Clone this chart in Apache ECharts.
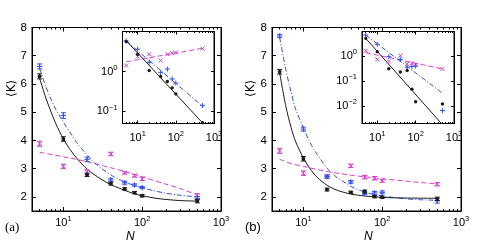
<!DOCTYPE html>
<html><head><meta charset="utf-8">
<script src="https://cdn.jsdelivr.net/npm/echarts@6/dist/echarts.min.js"></script>
<style>html,body{margin:0;padding:0;background:#fff}#c{width:485px;height:247px}</style>
</head><body><div id="c"></div>
<script>
// ---------- data ----------
const N = [5, 10, 20, 40, 60, 80, 100, 500];

// panel (a) main
const aBlack    = [6.27, 4.05, 2.78, 2.47, 2.28, 2.15, 2.04, 1.85];
const aBlackErr = [0.09, 0.08, 0.06, 0.05, 0.04, 0.04, 0.04, 0.06];
const aBlue     = [6.62, 4.88, 3.33, 2.60, 2.50, 2.42, 2.33, 1.95];
const aBlueErr  = [0.09, 0.10, 0.08, 0.06, 0.05, 0.04, 0.04, 0.06];
const aMag      = [3.88, 3.08, 2.88, 3.52, 2.85, 2.75, 2.64, 2.06];
const aMagErr   = [0.09, 0.08, 0.08, 0.06, 0.04, 0.05, 0.06, 0.05];

const aBlackFitN = [5, 6, 7, 8, 10, 12, 15, 20, 25, 30, 40, 50, 60, 80, 100, 150, 200, 300, 500];
const aBlackFit  = [6.2, 5.5, 5.0, 4.6, 4.05, 3.7, 3.35, 2.98, 2.78, 2.63, 2.43, 2.32, 2.23, 2.11, 2.04, 1.95, 1.91, 1.87, 1.85];
const aBlueFitN  = [5, 6, 7, 8, 10, 12, 15, 20, 25, 30, 40, 50, 60, 80, 100, 150, 200, 300, 500];
const aBlueFit   = [6.55, 5.9, 5.45, 5.1, 4.65, 4.3, 3.9, 3.48, 3.2, 3.02, 2.78, 2.63, 2.53, 2.4, 2.32, 2.2, 2.13, 2.06, 2.0];
const aMagFitN   = [5, 10, 20, 40, 60, 80, 100, 200, 300, 500];
const aMagFit    = [3.58, 3.42, 3.25, 3.03, 2.9, 2.79, 2.71, 2.45, 2.3, 2.07];

// panel (b) main
const bBlack    = [6.43, 3.35, 2.26, 2.16, 2.19, 2.01, 1.99, 1.93];
const bBlackErr = [0.08, 0.08, 0.05, 0.04, 0.05, 0.04, 0.04, 0.06];
const bBlue     = [7.70, 4.40, 2.72, 2.53, 2.13, 2.14, 2.16, 1.86];
const bBlueErr  = [0.06, 0.07, 0.05, 0.05, 0.05, 0.05, 0.05, 0.08];
const bMag      = [3.63, 2.84, 2.72, 3.10, 2.70, 2.66, 2.57, 2.45];
const bMagErr   = [0.09, 0.08, 0.06, 0.06, 0.06, 0.06, 0.05, 0.06];

const bBlackFitN = [5, 6, 7, 8, 10, 12, 15, 20, 25, 30, 40, 60, 80, 100, 200, 500];
const bBlackFit  = [6.4, 5.2, 4.45, 3.95, 3.38, 3.02, 2.69, 2.41, 2.27, 2.19, 2.1, 2.03, 2.0, 1.98, 1.96, 1.95];
const bBlueFitN  = [5, 6, 7, 8, 10, 12, 15, 20, 25, 30, 40, 60, 80, 100, 150, 200, 300, 500];
const bBlueFit   = [7.65, 6.5, 5.7, 5.1, 4.45, 3.95, 3.5, 3.02, 2.75, 2.6, 2.37, 2.17, 2.08, 2.03, 1.97, 1.93, 1.9, 1.88];
const bMagFitN   = [5, 7, 10, 15, 20, 30, 40, 60, 80, 100, 200, 300, 500];
const bMagFit    = [3.33, 3.18, 3.08, 2.97, 2.9, 2.82, 2.77, 2.71, 2.67, 2.64, 2.56, 2.51, 2.46];

// inset (a) log-log
const iaBlack = [5.6, 2.7, 1.06, 0.75, 0.56, 0.39, 0.275, 0.052];
const iaBlue  = [5.8, 3.6, 1.7, 0.95, 1.15, 0.65, 0.51, 0.14];
const iaMag   = [1.41, 2.36, 2.7, 1.88, 2.7, 2.87, 2.97, 3.73];
const iFitN   = [5, 500];
const iaBlackFit = [5.9, 0.052];
const iaBlueFit  = [5.8, 0.135];
const iaMagFit   = [1.75, 3.8];

// inset (b) log-log
const ibBlack = [5.3, 1.55, 0.32, 0.236, 0.27, 0.048, 0.015, 0.0123];
const ibBlue  = [7.2, 3.06, 0.97, 0.76, 0.365, 0.39, 0.41, 0.0066];
const ibMag   = [1.69, 0.76, 0.62, 1.07, 0.5, 0.53, 0.45, 0.31];
const ibBlackFit = [5.3, 0.0018];
const ibBlueFit  = [7.2, 0.033];
const ibMagFit   = [1.41, 0.31];

// minor tick values of the logarithmic N axes
const xMinorTicks = [5, 6, 7, 8, 9, 20, 30, 40, 50, 60, 70, 80, 90, 200, 300, 400, 500, 600, 700, 800, 900];

// ---------- styling ----------
const BLACK = '#1a1a1a', BLUE = '#2f4dff', MAG = '#e03ad8';
const FONT = 'Liberation Sans';

function supFmt(v) {
  const l = Math.log10(v), e = Math.round(l);
  if (Math.abs(l - e) > 1e-6) return '';
  return '{b|10}{s|' + (e < 0 ? '\u2212' + (-e) : e) + '}';
}
const supRich = {
  b: {fontSize: 11, fontFamily: FONT, color: '#000'},
  s: {fontSize: 7.5, fontFamily: FONT, color: '#000', padding: [0, 0, 8, 0]}
};

function xAxes(gi, inset) {
  const base = {type: 'log', logBase: 10, min: 4, max: 1000, gridIndex: gi,
    axisLine: {show: true, lineStyle: {color: '#000', width: 1}},
    splitLine: {show: false},
    axisTick: {show: true, inside: true, length: inset ? 3 : 4, lineStyle: {color: '#000'}}};
  const minor = Object.assign({}, base, {
    axisLine: {show: false}, axisLabel: {show: false},
    axisTick: {show: true, inside: true, length: inset ? 1.5 : 2, customValues: xMinorTicks, lineStyle: {color: '#000'}}});
  return [
    Object.assign({}, base, {position: 'bottom',
      axisLabel: {formatter: supFmt, rich: supRich, margin: inset ? 6 : 4, showMinLabel: false, showMaxLabel: true}}),
    Object.assign({}, base, {position: 'top', axisLabel: {show: false}}),
    Object.assign({}, minor, {position: 'bottom'}),
    Object.assign({}, minor, {position: 'top'})
  ];
}
function yAxesLin(gi) {
  const base = {type: 'value', min: 1.5, max: 8, gridIndex: gi,
    axisLine: {show: true, lineStyle: {color: '#000', width: 1}},
    splitLine: {show: false},
    axisTick: {show: true, inside: true, length: 4, lineStyle: {color: '#000'}}};
  return [
    Object.assign({}, base, {position: 'left',
      axisLabel: {color: '#000', fontSize: 11.5, fontFamily: FONT, margin: 5, showMinLabel: false,
        formatter: v => (Math.abs(v - Math.round(v)) < 1e-6 ? String(Math.round(v)) : '')}}),
    Object.assign({}, base, {position: 'right', axisLabel: {show: false}})
  ];
}
function yAxesLog(gi, min) {
  const base = {type: 'log', logBase: 10, min: min, max: 10, gridIndex: gi,
    axisLine: {show: true, lineStyle: {color: '#000', width: 1}},
    splitLine: {show: false},
    axisTick: {show: true, inside: true, length: 3, lineStyle: {color: '#000'}}};
  return [
    Object.assign({}, base, {position: 'left',
      axisLabel: {formatter: supFmt, rich: supRich, margin: 5, showMinLabel: false, showMaxLabel: false}}),
    Object.assign({}, base, {position: 'right', axisLabel: {show: false}})
  ];
}

function markerRender(kind, color, inset) {
  return function (params, api) {
    const x = api.value(0), y = api.value(1), e = api.value(2) || 0;
    const p = api.coord([x, y]);
    const st = {stroke: color, lineWidth: 1, fill: null};
    const ch = [];
    if (e > 0) {
      const lo = api.coord([x, y - e]), hi = api.coord([x, y + e]);
      ch.push({type: 'line', shape: {x1: p[0], y1: lo[1], x2: p[0], y2: hi[1]}, style: st});
      ch.push({type: 'line', shape: {x1: p[0] - 2.5, y1: lo[1], x2: p[0] + 2.5, y2: lo[1]}, style: st});
      ch.push({type: 'line', shape: {x1: p[0] - 2.5, y1: hi[1], x2: p[0] + 2.5, y2: hi[1]}, style: st});
    }
    const r = inset ? 2 : 2.2;
    if (kind === 'dot') {
      ch.push({type: 'circle', shape: {cx: p[0], cy: p[1], r: inset ? 1.7 : 1.9}, style: {fill: color, stroke: null}});
    } else if (kind === 'plus') {
      ch.push({type: 'line', shape: {x1: p[0] - r - 0.5, y1: p[1], x2: p[0] + r + 0.5, y2: p[1]}, style: st});
      ch.push({type: 'line', shape: {x1: p[0], y1: p[1] - r - 0.5, x2: p[0], y2: p[1] + r + 0.5}, style: st});
    } else {
      ch.push({type: 'line', shape: {x1: p[0] - r, y1: p[1] - r, x2: p[0] + r, y2: p[1] + r}, style: st});
      ch.push({type: 'line', shape: {x1: p[0] - r, y1: p[1] + r, x2: p[0] + r, y2: p[1] - r}, style: st});
    }
    return {type: 'group', children: ch};
  };
}

function pts(xs, ys, errs) { return xs.map((x, i) => [x, ys[i], errs ? errs[i] : 0]); }

// grid g uses xAxisIndex 4g and yAxisIndex 2g
function markers(g, xs, ys, errs, kind, color, inset) {
  return {type: 'custom', coordinateSystem: 'cartesian2d', xAxisIndex: 4 * g, yAxisIndex: 2 * g,
    data: pts(xs, ys, errs), encode: {x: 0, y: 1}, renderItem: markerRender(kind, color, inset),
    silent: true, z: inset ? 14 : 4};
}
function fitLine(g, xs, ys, color, dash, smooth) {
  return {type: 'line', xAxisIndex: 4 * g, yAxisIndex: 2 * g, data: xs.map((x, i) => [x, ys[i]]),
    showSymbol: false, symbol: 'none', smooth: smooth ? 0.3 : false, clip: true, silent: true,
    z: (g === 1 || g === 3) ? 13 : 3,
    lineStyle: {color: color, width: 1, type: dash}};
}

const DASH = [5, 3], DASHDOT = [5, 2, 1, 2];

const xAxis = [].concat(xAxes(0, false), xAxes(1, true), xAxes(2, false), xAxes(3, true));
const yAxis = [].concat(yAxesLin(0), yAxesLog(1, 0.05), yAxesLin(2), yAxesLog(3, 0.002));

const gridBase = {show: true, borderColor: '#000', borderWidth: 1, backgroundColor: '#fff', containLabel: false};
const grid = [
  Object.assign({}, gridBase, {left: 32, top: 27.5, width: 189, height: 183.5}),
  Object.assign({}, gridBase, {left: 122.5, top: 31.5, width: 91.5, height: 92}),
  Object.assign({}, gridBase, {left: 272, top: 27.5, width: 189, height: 183.5}),
  Object.assign({}, gridBase, {left: 362, top: 31.5, width: 92, height: 92})
];

const series = [
  // main (a)
  fitLine(0, aMagFitN, aMagFit, MAG, DASH, true),
  fitLine(0, aBlueFitN, aBlueFit, BLUE, DASHDOT, true),
  fitLine(0, aBlackFitN, aBlackFit, BLACK, 'solid', true),
  markers(0, N, aMag, aMagErr, 'x', MAG, false),
  markers(0, N, aBlue, aBlueErr, 'plus', BLUE, false),
  markers(0, N, aBlack, aBlackErr, 'dot', BLACK, false),
  // inset (a)
  fitLine(1, iFitN, iaMagFit, MAG, DASH, false),
  fitLine(1, iFitN, iaBlueFit, BLUE, DASHDOT, false),
  fitLine(1, iFitN, iaBlackFit, BLACK, 'solid', false),
  markers(1, N, iaMag, null, 'x', MAG, true),
  markers(1, N, iaBlue, null, 'plus', BLUE, true),
  markers(1, N, iaBlack, null, 'dot', BLACK, true),
  // main (b)
  fitLine(2, bMagFitN, bMagFit, MAG, DASH, true),
  fitLine(2, bBlueFitN, bBlueFit, BLUE, DASHDOT, true),
  fitLine(2, bBlackFitN, bBlackFit, BLACK, 'solid', true),
  markers(2, N, bMag, bMagErr, 'x', MAG, false),
  markers(2, N, bBlue, bBlueErr, 'plus', BLUE, false),
  markers(2, N, bBlack, bBlackErr, 'dot', BLACK, false),
  // inset (b)
  fitLine(3, iFitN, ibMagFit, MAG, DASH, false),
  fitLine(3, iFitN, ibBlueFit, BLUE, DASHDOT, false),
  fitLine(3, iFitN, ibBlackFit, BLACK, 'solid', false),
  markers(3, N, ibMag, null, 'x', MAG, true),
  markers(3, N, ibBlue, null, 'plus', BLUE, true),
  markers(3, N, ibBlack, null, 'dot', BLACK, true)
];

const graphic = [
  {type: 'text', left: 5, top: 221, style: {text: '(a)', font: '13px "Liberation Serif"', fill: '#000'}},
  {type: 'text', left: 245, top: 221, style: {text: '(b)', font: '13px "Liberation Sans"', fill: '#000'}},
  {type: 'text', left: 126, top: 231, style: {text: 'N', font: 'italic 12px "Liberation Sans"', fill: '#000'}},
  {type: 'text', left: 364, top: 231, style: {text: 'N', font: 'italic 12px "Liberation Sans"', fill: '#000'}},
  {type: 'text', x: 6, y: 97, rotation: Math.PI / 2, style: {text: '\u27E8K\u27E9', font: '12px "DejaVu Sans"', fill: '#000'}},
  {type: 'text', x: 245, y: 97, rotation: Math.PI / 2, style: {text: '\u27E8K\u27E9', font: '12px "DejaVu Sans"', fill: '#000'}}
];

const chart = echarts.init(document.getElementById('c'), null, {renderer: 'canvas'});
chart.setOption({animation: false, backgroundColor: '#fff', grid, xAxis, yAxis, series, graphic});
</script></body></html>
